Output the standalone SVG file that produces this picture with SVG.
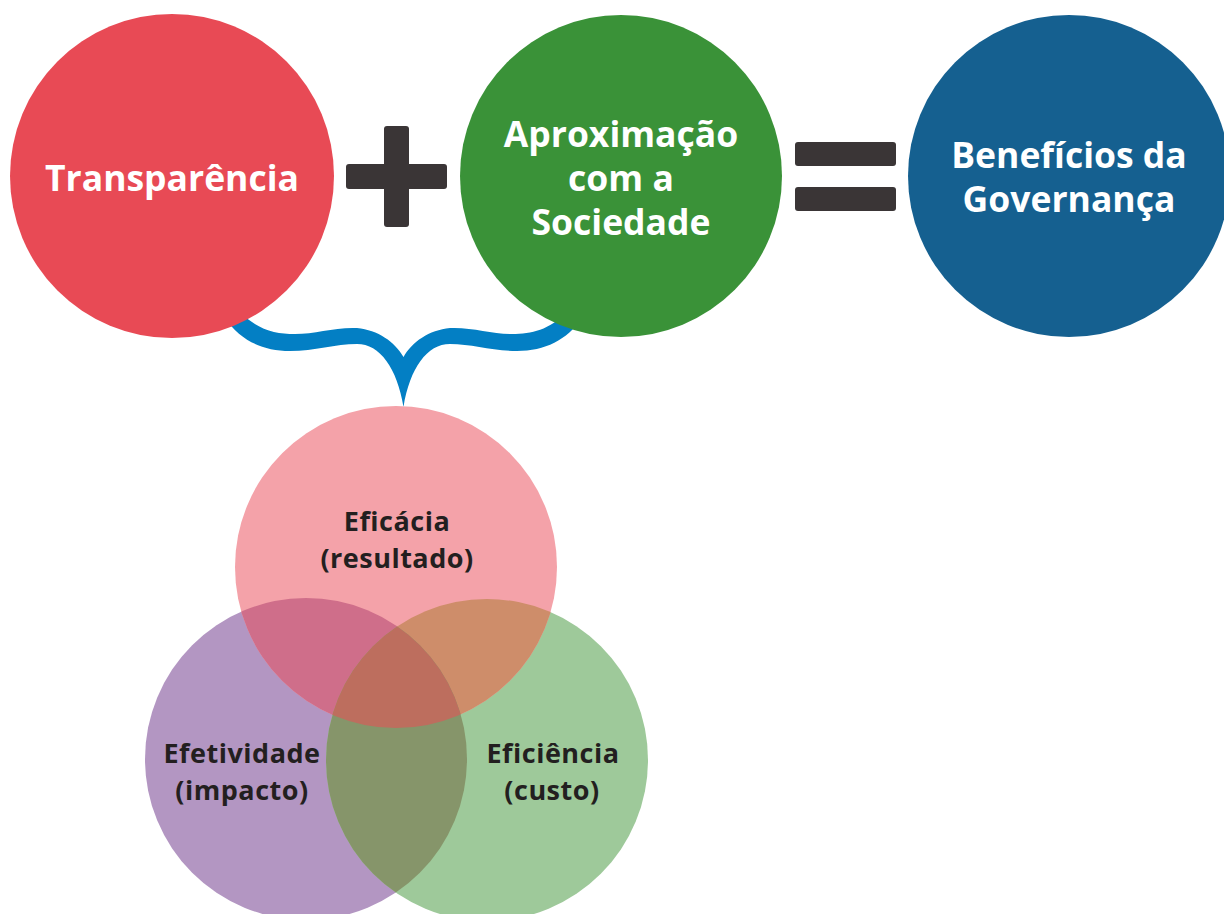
<svg xmlns="http://www.w3.org/2000/svg" width="1224" height="914" viewBox="0 0 1224 914">
<style>
.wt{font-family:"Open Sans","Liberation Sans",sans-serif;font-weight:700;font-size:35.5px;fill:#ffffff;text-anchor:middle}
.bt{font-family:"Open Sans","Liberation Sans",sans-serif;font-weight:700;font-size:27px;letter-spacing:0.5px;fill:#231f20;text-anchor:middle}
.op{fill:#3a3536}
</style>
<defs>
<clipPath id="cpPink"><circle cx="396" cy="567" r="161"/></clipPath>
<clipPath id="cpPurple"><circle cx="306" cy="759" r="161"/></clipPath>
</defs>
<rect width="1224" height="914" fill="#ffffff"/>
<g id="connectors">
<path id="brace" fill="#037fc4" d="M 403.5,357 C 395,342 378,330 357,328 C 335,327 315,334 295,334 C 275,334 258,330 240,312 L 225,318 C 240,340 262,351 290,351 C 315,351 335,344 357,344 C 380,344 397,368 403.5,407 C 410,368 427,344 450,344 C 472,344 492,351 517,351 C 545,351 567,340 582,318 L 567,312 C 549,330 532,334 512,334 C 492,334 472,327 450,328 C 429,330 412,342 403.5,357 Z"/>
</g>
<g id="transparencia">
<circle cx="172" cy="176" r="162" fill="#e84a55"/>
<text class="wt" x="172" y="191">Transparência</text>
</g>
<g id="plus">
<rect class="op" x="384" y="126" width="25" height="101" rx="3"/>
<rect class="op" x="346" y="164" width="101" height="25" rx="3"/>
</g>
<g id="aproximacao">
<circle cx="621" cy="176" r="161" fill="#3a9238"/>
<text class="wt" x="621" y="147">Aproximação</text>
<text class="wt" x="621" y="191">com a</text>
<text class="wt" x="621" y="235">Sociedade</text>
</g>
<g id="equals">
<rect class="op" x="795" y="142" width="101" height="24" rx="3"/>
<rect class="op" x="795" y="187" width="101" height="24" rx="3"/>
</g>
<g id="beneficios">
<circle cx="1069" cy="176" r="161" fill="#156090"/>
<text class="wt" x="1069" y="168">Benefícios da</text>
<text class="wt" x="1069" y="212">Governança</text>
</g>
<g id="efetividade">
<circle cx="306" cy="759" r="161" fill="#b396c2"/>
</g>
<g id="eficiencia">
<circle cx="487" cy="760" r="161" fill="#9ec99a"/>
</g>
<g id="eficacia">
<circle cx="396" cy="567" r="161" fill="#f4a2a9"/>
</g>
<g id="venn-overlaps">
<circle cx="306" cy="759" r="161" fill="#cf6e8a" clip-path="url(#cpPink)"/>
<circle cx="487" cy="760" r="161" fill="#ce8d6a" clip-path="url(#cpPink)"/>
<circle cx="487" cy="760" r="161" fill="#86956a" clip-path="url(#cpPurple)"/>
<g clip-path="url(#cpPink)"><circle cx="487" cy="760" r="161" fill="#bd6e5e" clip-path="url(#cpPurple)"/></g>
</g>
<g id="venn-labels">
<text class="bt" x="397" y="531">Eficácia</text>
<text class="bt" x="397" y="568">(resultado)</text>
<text class="bt" x="242" y="763">Efetividade</text>
<text class="bt" x="242" y="800">(impacto)</text>
<text class="bt" x="553" y="763">Eficiência</text>
<text class="bt" x="552" y="800">(custo)</text>
</g>
</svg>
